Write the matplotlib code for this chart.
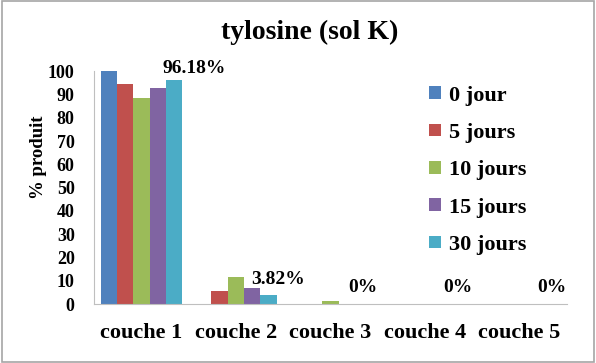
import numpy as np
import matplotlib.pyplot as plt

plt.rcParams['font.family'] = ['Liberation Serif', 'DejaVu Serif']
plt.rcParams['font.weight'] = 'bold'

couches = ['couche 1', 'couche 2', 'couche 3', 'couche 4', 'couche 5']
series = ['0 jour', '5 jours', '10 jours', '15 jours', '30 jours']
jour_0 = [100, 0, 0, 0, 0]
jours_5 = [94.4, 5.6, 0, 0, 0]
jours_10 = [88.4, 11.6, 1.3, 0, 0]
jours_15 = [92.7, 6.9, 0, 0, 0]
jours_30 = [96.18, 3.82, 0, 0, 0]
labels_30 = ['96.18%', '3.82%', '0%', '0%', '0%']

colors = ['#4F81BD', '#C0504D', '#9BBB59', '#8064A2', '#4BACC6']

fig = plt.figure(figsize=(5.96, 3.63), dpi=100)
ax = fig.add_axes([0.158, 0.1625, 0.793, 0.6415])

x = np.arange(len(couches))
w = 0.173
data = [jour_0, jours_5, jours_10, jours_15, jours_30]
for i, (name, vals) in enumerate(zip(series, data)):
    ax.bar(x + (i - 2) * w, vals, width=w, color=colors[i], label=name)

# value labels sit over the 30 jours bars
offsets = [(14.5, 8), (6.5, 11), (0, 12), (0, 12), (0, 12)]
for xi, v, lab, off in zip(x, jours_30, labels_30, offsets):
    ax.annotate(lab, (xi + 2 * w, v), xytext=off, textcoords='offset points',
                ha='center', va='center', fontsize=14, fontweight='bold')

ax.set_xlim(-0.5, 4.5)
ax.set_ylim(0, 100)
ax.set_yticks(range(0, 101, 10))
ax.set_xticks(x)
ax.set_xticklabels(couches, fontsize=16, fontweight='bold')
ax.tick_params(axis='x', length=0, pad=14)
ax.tick_params(axis='y', length=0, labelsize=13, pad=14)
for lab in ax.get_yticklabels():
    lab.set_fontweight('bold')
for s in ['top', 'right']:
    ax.spines[s].set_visible(False)
for s in ['left', 'bottom']:
    ax.spines[s].set_color('#BFBFBF')
ax.set_ylabel('% produit', fontsize=13.5, fontweight='bold')
ax.yaxis.set_label_coords(-0.1, 0.63)

fig.suptitle('tylosine (sol K)', x=0.52, y=0.945, fontsize=20, fontweight='bold')

fig.legend(loc='upper left', bbox_to_anchor=(0.687, 0.819), frameon=False,
           handlelength=0.5, handleheight=0.5, handletextpad=0.4,
           labelspacing=0.78, prop={'weight': 'bold', 'size': 16})

fig.patches.append(plt.Rectangle((0.003, 0.003), 0.994, 0.994, transform=fig.transFigure,
                                 fill=False, edgecolor='#A6A6A6', linewidth=1.2))

fig.savefig('out.png', dpi=100)
